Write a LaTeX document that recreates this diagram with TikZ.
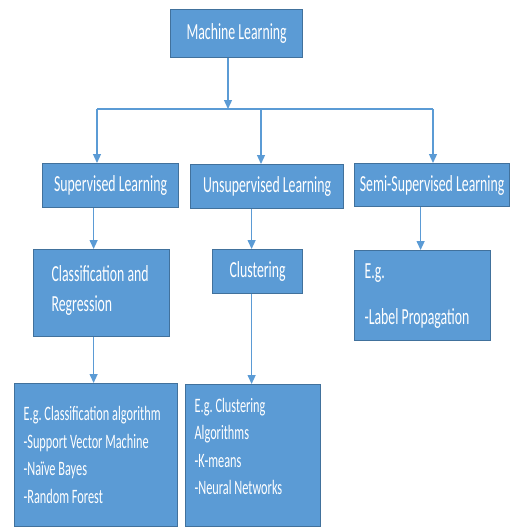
\documentclass[tikz,border=0pt]{standalone}
\usepackage{fontspec}
\setmainfont{Carlito}[FakeStretch=0.6]
\usepackage{tikz}
\usetikzlibrary{arrows.meta,positioning}
\definecolor{boxblue}{HTML}{5B9BD5}
\definecolor{boxedge}{HTML}{41719C}
\tikzset{
    block/.style={
                draw=boxedge,
                line width=1.2pt,
                fill=boxblue,
                text=white,
                anchor=north west,
                inner sep=0pt,
                font=\fontsize{23}{27.5}\selectfont
            },
        topic/.style={
                block,
                align=center
            },
        listing/.style={
                block,
                align=flush left,
                inner xsep=9pt
            },
        description/.style={
                listing,
                font={\fontsize{20.5}{27.5}\selectfont\hyphenpenalty=10000\relax}
            },
        wire/.style={draw=boxblue, line width=1.3pt},
        link/.style={wire, -{Triangle[width=8pt,length=9pt]}},
}

\begin{document}
\begin{tikzpicture}[x=1pt,y=-1pt]
\useasboundingbox (0,0) rectangle (510,527);
% Topic
\node[topic, minimum width=132pt, minimum height=48pt] (ml) at (170,9) {Machine Learning};
% Subtopics
\node[topic, minimum width=136pt, minimum height=44pt] (sup) at (42,163) {Supervised Learning};
\node[topic, minimum width=153pt, minimum height=44pt] (uns) at (190,164) {Unsupervised Learning};
\node[topic, minimum width=155pt, minimum height=43pt] (semi) at (354,163) {Semi-Supervised Learning};
% Themes
\node[listing, text width=100pt, inner xsep=18pt, minimum height=87pt] (cr) at (33,249)
    {Classification~and\\[2.5pt]Regression\rule[-10pt]{0pt}{0pt}};
\node[topic, minimum width=90pt, minimum height=44pt] (clu) at (212,249) {Clustering};
\node[listing, text width=116pt, inner xsep=10pt, minimum height=90pt] (eg) at (354,250)
    {E.g.\\[18.5pt]-Label~Propagation};
% Descriptions
\node[description, text width=145pt, minimum height=143pt] (cla) at (14,383)
    {E.g.~Classification~algorithm\\-Support~Vector~Machine\\-Naïve~Bayes\\-Random~Forest};
\node[description, text width=117pt, minimum height=142pt] (clg) at (185,384)
    {E.g.~Clustering\\Algorithms\\-K-means\\-Neural~Networks\rule[-18pt]{0pt}{0pt}};

% Connectors
\coordinate (bus) at (228,109);
\coordinate (busl) at (97,109);
\coordinate (busm) at (261,109);
\coordinate (busr) at (433,109);
\draw[link] (ml.south -| bus) -- (bus);
\draw[wire] (busl) -- (busr);
\draw[link] (busl) -- (busl |- sup.north);
\draw[link] (busm) -- (busm |- uns.north);
\draw[link] (busr) -- (busr |- semi.north);
\draw[link] ([xshift=-17pt]sup.south) -- ([xshift=-17pt]sup.south |- cr.north);
\draw[link] ([xshift=-15.5pt]uns.south) -- ([xshift=-15.5pt]uns.south |- clu.north);
\draw[link] ([xshift=-11.5pt]semi.south) -- ([xshift=-11.5pt]semi.south |- eg.north);
\draw[link] ([xshift=-8pt]cr.south) -- ([xshift=-8pt]cr.south |- cla.north);
\draw[link] ([xshift=-6pt]clu.south) -- ([xshift=-6pt]clu.south |- clg.north);
\end{tikzpicture}
\end{document}
